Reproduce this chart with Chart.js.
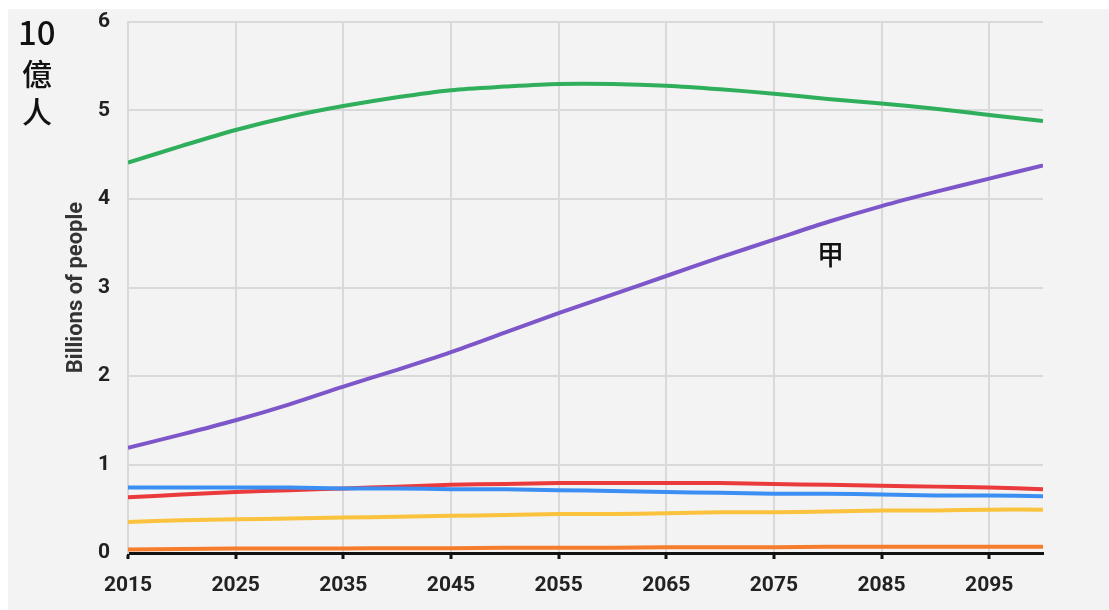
<!DOCTYPE html>
<html lang="zh">
<head>
  <meta charset="UTF-8">
  <script src="https://cdn.jsdelivr.net/npm/chart.js"></script>
  <style>
    html, body { margin: 0; padding: 0; background: #fff; }
    .fundo { position: absolute; left: 8px; top: 9px; width: 1101px; height: 601px; background: #f3f3f3; }
    .grafico { position: absolute; left: 0; top: 0; width: 1109px; height: 610px; }
    .rotulo { position: absolute; font-family: "Noto Sans CJK SC", "Noto Sans", sans-serif; color: #111; line-height: 1; font-weight: 500; }
  </style>
</head>
<body>
  <div class="fundo"></div>
  <div class="grafico"><canvas id="canvas_grafico" width="1109" height="610"></canvas></div>
  <div class="rotulo" style="left:18px; top:15px; font-size:33px;">10</div>
  <div class="rotulo" style="left:22px; top:57px; font-size:30px;">億</div>
  <div class="rotulo" style="left:22px; top:95px; font-size:30px;">人</div>
  <div class="rotulo" style="left:817px; top:240px; font-size:27px;">甲</div>

  <script>
    // anos (a cada 5) e populações em bilhões
    const anos = [2015, 2020, 2025, 2030, 2035, 2040, 2045, 2050, 2055, 2060, 2065, 2070, 2075, 2080, 2085, 2090, 2095, 2100];
    const ticksAnos = [2015, 2025, 2035, 2045, 2055, 2065, 2075, 2085, 2095];
    const ticksY = [0, 1, 2, 3, 4, 5, 6];

    const asia     = [4.41, 4.60, 4.78, 4.93, 5.05, 5.15, 5.23, 5.27, 5.30, 5.30, 5.28, 5.24, 5.19, 5.13, 5.08, 5.02, 4.95, 4.88];
    const africa   = [1.19, 1.34, 1.50, 1.68, 1.88, 2.07, 2.27, 2.49, 2.71, 2.92, 3.13, 3.34, 3.54, 3.74, 3.92, 4.08, 4.23, 4.38];
    const europa   = [0.74, 0.74, 0.74, 0.74, 0.73, 0.73, 0.72, 0.72, 0.71, 0.70, 0.69, 0.68, 0.67, 0.67, 0.66, 0.65, 0.65, 0.64];
    const americaL = [0.63, 0.66, 0.69, 0.71, 0.73, 0.75, 0.77, 0.78, 0.79, 0.79, 0.79, 0.79, 0.78, 0.77, 0.76, 0.75, 0.74, 0.72];
    const americaN = [0.35, 0.37, 0.38, 0.39, 0.40, 0.41, 0.42, 0.43, 0.44, 0.44, 0.45, 0.46, 0.46, 0.47, 0.48, 0.48, 0.49, 0.49];
    const oceania  = [0.04, 0.045, 0.05, 0.05, 0.05, 0.055, 0.055, 0.06, 0.06, 0.06, 0.065, 0.065, 0.065, 0.07, 0.07, 0.07, 0.07, 0.07];

    function serie(valores, cor) {
      return {
        data: valores.map((v, i) => ({ x: anos[i], y: v })),
        borderColor: cor,
        borderWidth: 4,
        pointRadius: 0,
        tension: 0.3,
        fill: false
      };
    }

    const ctx = document.getElementById('canvas_grafico').getContext('2d');

    new Chart(ctx, {
      type: 'line',
      data: {
        datasets: [
          serie(oceania, '#f67d2c'),
          serie(americaN, '#fbc23d'),
          serie(europa, '#3b8ff3'),
          serie(americaL, '#eb3a3c'),
          serie(africa, '#7d57c9'),
          serie(asia, '#2fae5b')
        ]
      },
      options: {
        responsive: false,
        animation: false,
        layout: { padding: { left: 63, right: 66, top: 22, bottom: 0 } },
        plugins: { legend: { display: false }, tooltip: { enabled: false } },
        scales: {
          x: {
            type: 'linear',
            min: 2015,
            max: 2100,
            afterBuildTicks: (scale) => { scale.ticks = ticksAnos.map(v => ({ value: v })); },
            afterFit: (scale) => { scale.height = 57; scale.paddingLeft = 0; scale.paddingRight = 0; },
            grid: { color: '#d9d9d9', lineWidth: 2, tickColor: '#111', tickLength: 6, tickWidth: 3 },
            border: { color: '#111', width: 3 },
            ticks: {
              color: '#222',
              padding: 14,
              maxRotation: 0,
              autoSkip: false,
              font: { family: 'Roboto', size: 21, weight: 'bold' },
              callback: (v) => String(v)
            }
          },
          y: {
            min: 0,
            max: 6,
            afterBuildTicks: (scale) => { scale.ticks = ticksY.map(v => ({ value: v })); },
            afterFit: (scale) => { scale.width = 65; scale.paddingTop = 0; scale.paddingBottom = 0; },
            grid: { color: '#d9d9d9', lineWidth: 2, drawTicks: false },
            border: { color: '#d9d9d9', width: 2 },
            title: {
              display: true,
              text: 'Billions of people',
              color: '#333',
              padding: { top: 0, bottom: 0 },
              font: { family: 'Roboto', size: 22, weight: 'bold' }
            },
            ticks: {
              color: '#222',
              padding: 18,
              font: { family: 'Roboto', size: 21, weight: 'bold' }
            }
          }
        }
      }
    });
  </script>
</body>
</html>
